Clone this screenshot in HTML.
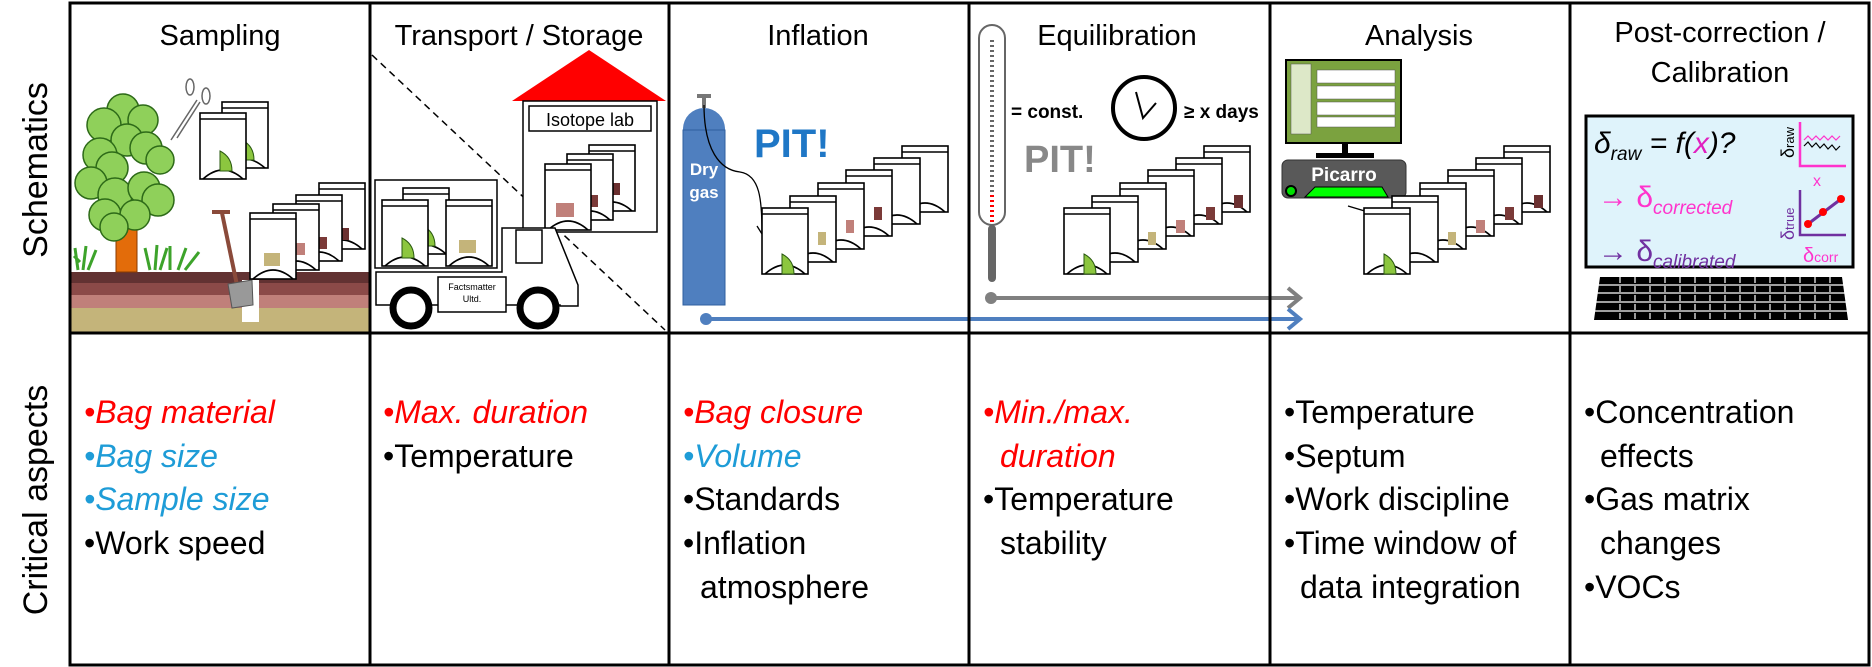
<!DOCTYPE html>
<html><head><meta charset="utf-8"><style>
html,body{margin:0;padding:0;background:#fff;}
svg{display:block;font-family:"Liberation Sans",sans-serif;}
.h{font-size:29px;text-anchor:middle;fill:#000;}
.b{font-size:32px;}
</style></head><body>
<svg width="1872" height="667" viewBox="0 0 1872 667" xmlns="http://www.w3.org/2000/svg">
<defs>
<g id="bag">
<rect x="0" y="0" width="46" height="66" fill="#fff" stroke="#000" stroke-width="1.6"/>
<line x1="0" y1="6" x2="46" y2="6" stroke="#000" stroke-width="1.6"/>
<path d="M3,66 Q23,48 43,66" fill="none" stroke="#000" stroke-width="1.6"/>
</g>
<g id="wedge"><path d="M20,58 L20,38 Q32,44 32,58 Z" fill="#8cc63f" stroke="#2a5a10" stroke-width="1"/></g>
</defs>

<!-- left labels -->
<text transform="translate(47,170) rotate(-90)" font-size="34" text-anchor="middle">Schematics</text>
<text transform="translate(47,500) rotate(-90)" font-size="34" text-anchor="middle">Critical aspects</text>

<!-- headers -->
<text class="h" x="220" y="45">Sampling</text>
<text class="h" x="519" y="45">Transport / Storage</text>
<text class="h" x="818" y="45">Inflation</text>
<text class="h" x="1117" y="45">Equilibration</text>
<text class="h" x="1419" y="45">Analysis</text>
<text class="h" x="1720" y="42">Post-correction /</text>
<text class="h" x="1720" y="82">Calibration</text>

<!-- Sampling -->
<rect x="71" y="272" width="298" height="11" fill="#623232"/>
<rect x="71" y="283" width="298" height="12" fill="#8b4a48"/>
<rect x="71" y="295" width="298" height="13" fill="#c0807a"/>
<rect x="71" y="308" width="298" height="24" fill="#c4b47a"/>
<rect x="242" y="280" width="17" height="42" fill="#fff"/>
<rect x="116" y="185" width="21" height="87" fill="#e36c0a" stroke="#8a3a00" stroke-width="1"/>
<g fill="#8fd05a" stroke="#2d6a18" stroke-width="1.5">
<circle cx="123" cy="110" r="16"/><circle cx="143" cy="120" r="15"/><circle cx="104" cy="125" r="17"/>
<circle cx="127" cy="140" r="16"/><circle cx="100" cy="155" r="17"/><circle cx="146" cy="148" r="16"/>
<circle cx="112" cy="168" r="16"/><circle cx="160" cy="160" r="14"/><circle cx="91" cy="183" r="16"/>
<circle cx="115" cy="195" r="17"/><circle cx="144" cy="188" r="16"/><circle cx="158" cy="200" r="16"/>
<circle cx="105" cy="215" r="16"/><circle cx="135" cy="215" r="15"/><circle cx="114" cy="227" r="14"/>
</g>
<g stroke="#3da32b" stroke-width="3" fill="none">
<path d="M78,270 l-3,-22 M83,270 l3,-24 M88,270 l8,-20 M80,262 l-6,-6"/>
<path d="M150,270 l-5,-22 M155,270 l2,-25 M160,270 l7,-22 M170,270 l0,-24 M178,270 l8,-22 M185,270 l14,-18"/>
</g>
<g stroke="#666" stroke-width="1.5" fill="none">
<line x1="171" y1="140" x2="197" y2="100"/><line x1="177" y1="138" x2="200" y2="102"/>
<ellipse cx="190" cy="87" rx="4" ry="8"/><ellipse cx="206" cy="96" rx="4" ry="8"/>
</g>
<line x1="222" y1="213" x2="238" y2="290" stroke="#8a4a3a" stroke-width="4"/>
<line x1="212" y1="212" x2="230" y2="212" stroke="#8a4a3a" stroke-width="4"/>
<polygon points="228,284 252,280 253,305 232,308" fill="#999" stroke="#555"/>
<use href="#bag" x="222" y="102"/><use href="#wedge" x="222" y="102"/>
<use href="#bag" x="200" y="113"/><use href="#wedge" x="200" y="113"/>
<use href="#bag" x="319" y="183"/><rect x="340" y="228" width="9" height="12" fill="#6b3030"/>
<use href="#bag" x="296" y="195"/><rect x="318" y="237" width="9" height="12" fill="#7b3a38"/>
<use href="#bag" x="273" y="204"/><rect x="296" y="243" width="9" height="12" fill="#c0807a"/>
<use href="#bag" x="250" y="213"/><rect x="264" y="253" width="16" height="13" fill="#c4b47a"/>

<!-- Transport -->
<line x1="372" y1="55" x2="665" y2="330" stroke="#000" stroke-width="1.5" stroke-dasharray="7,5"/>
<polygon points="512,101 589,50 666,101" fill="#ff0000"/>
<rect x="523" y="101" width="134" height="131" fill="#fff" stroke="#000" stroke-width="1.5"/>
<rect x="529" y="106" width="122" height="25" fill="#fff" stroke="#000" stroke-width="1.5"/>
<text x="590" y="126" font-size="18" text-anchor="middle">Isotope lab</text>
<use href="#bag" x="589" y="145"/><rect x="612" y="183" width="8" height="12" fill="#6b3030"/>
<use href="#bag" x="567" y="154"/><rect x="590" y="195" width="8" height="12" fill="#7b3a38"/>
<use href="#bag" x="545" y="164"/><rect x="556" y="203" width="18" height="14" fill="#c0807a"/>
<rect x="375" y="180" width="122" height="88" fill="#fff" stroke="#000" stroke-width="1.5"/>
<use href="#bag" x="403" y="188"/><use href="#wedge" x="403" y="188"/>
<use href="#bag" x="382" y="200"/><use href="#wedge" x="382" y="200"/>
<use href="#bag" x="446" y="200"/><rect x="459" y="240" width="17" height="13" fill="#c4b47a"/>
<path d="M376,272 L376,305 L560,305 L560,306 L578,306 L578,285 L555,228 L502,228 L502,272 Z" fill="#fff" stroke="#000" stroke-width="1.5"/>
<rect x="516" y="230" width="26" height="33" fill="#fff" stroke="#000" stroke-width="1.5"/>
<rect x="438" y="277" width="68" height="35" fill="#fff" stroke="#000" stroke-width="1.5"/>
<text x="472" y="290" font-size="9" text-anchor="middle">Factsmatter</text>
<text x="472" y="302" font-size="9" text-anchor="middle">Ultd.</text>
<circle cx="411" cy="308" r="18" fill="#fff" stroke="#000" stroke-width="7"/>
<circle cx="538" cy="308" r="18" fill="#fff" stroke="#000" stroke-width="7"/>

<!-- Inflation -->
<rect x="683" y="108" width="42" height="197" rx="21" ry="21" fill="#4f7fbf"/>
<rect x="683" y="130" width="42" height="175" fill="#4f7fbf" stroke="#2f5f9f"/>
<rect x="702" y="96" width="4" height="12" fill="#777"/><rect x="697" y="94" width="14" height="4" fill="#777"/>
<text x="704" y="175" fill="#fff" font-size="17" font-weight="bold" text-anchor="middle">Dry</text>
<text x="704" y="198" fill="#fff" font-size="17" font-weight="bold" text-anchor="middle">gas</text>
<path d="M704,105 C704,150 720,170 740,172 C760,175 762,200 762,233" fill="none" stroke="#000" stroke-width="1.3"/>
<path d="M757,226 L762,234 L766,226" fill="none" stroke="#000" stroke-width="1.3"/>
<text x="754" y="157" fill="#1f77c6" font-size="40" font-weight="bold">PIT!</text>
<use href="#bag" x="902" y="146"/><use href="#bag" x="874" y="158"/><use href="#bag" x="846" y="170"/>
<use href="#bag" x="818" y="183"/><use href="#bag" x="790" y="196"/>
<rect x="874" y="207" width="8" height="13" fill="#7b3a38"/><rect x="846" y="220" width="8" height="13" fill="#c0807a"/><rect x="818" y="232" width="8" height="13" fill="#c4b47a"/>
<use href="#bag" x="762" y="208" transform="translate(0,0)"/><use href="#wedge" x="762" y="216"/>

<!-- Equilibration -->
<rect x="979" y="25" width="26" height="200" rx="13" fill="#fff" stroke="#666" stroke-width="2"/>
<rect x="988" y="225" width="8" height="57" rx="4" fill="#666"/>
<line x1="992" y1="40" x2="992" y2="222" stroke="#666" stroke-width="4" stroke-dasharray="2,3"/>
<line x1="992" y1="195" x2="992" y2="222" stroke="#f00" stroke-width="4" stroke-dasharray="2,3"/>
<text x="1011" y="118" font-size="19" font-weight="bold">= const.</text>
<circle cx="1144" cy="108" r="31" fill="#fff" stroke="#000" stroke-width="4"/>
<path d="M1136,92 L1143,118 L1156,103" fill="none" stroke="#000" stroke-width="2"/>
<text x="1184" y="118" font-size="19" font-weight="bold">≥ x days</text>
<text x="1024" y="172" fill="#888" font-size="38" font-weight="bold">PIT!</text>
<use href="#bag" x="1204" y="146"/><use href="#bag" x="1176" y="158"/><use href="#bag" x="1148" y="170"/>
<use href="#bag" x="1120" y="183"/><use href="#bag" x="1092" y="196"/>
<rect x="1234" y="195" width="9" height="13" fill="#6b3030"/><rect x="1206" y="207" width="9" height="13" fill="#7b3a38"/><rect x="1176" y="220" width="9" height="13" fill="#c0807a"/><rect x="1148" y="232" width="8" height="13" fill="#c4b47a"/>
<use href="#bag" x="1064" y="208"/><use href="#wedge" x="1064" y="216"/>
<line x1="991" y1="298" x2="1299" y2="298" stroke="#808080" stroke-width="4"/>
<circle cx="991" cy="298" r="6" fill="#808080"/>
<path d="M1288,288 L1300,298 L1288,308" fill="none" stroke="#808080" stroke-width="4"/>
<line x1="706" y1="319" x2="1299" y2="319" stroke="#4f7fbf" stroke-width="4"/>
<circle cx="706" cy="319" r="6" fill="#4f7fbf"/>
<path d="M1288,309 L1300,319 L1288,329" fill="none" stroke="#4f7fbf" stroke-width="4"/>

<!-- Analysis -->
<rect x="1286" y="60" width="115" height="83" fill="#7ba23f" stroke="#000" stroke-width="2"/>
<g fill="#fff" stroke="#555" stroke-width="0.5">
<rect x="1317" y="70" width="78" height="13"/><rect x="1317" y="86" width="78" height="13"/><rect x="1317" y="102" width="78" height="13"/><rect x="1317" y="117" width="78" height="10"/>
<rect x="1291" y="64" width="20" height="70" fill="#dde8c8"/>
</g>
<rect x="1342" y="143" width="6" height="11" fill="#000"/><rect x="1316" y="153" width="58" height="5" fill="#000"/>
<rect x="1282" y="160" width="124" height="38" rx="6" fill="#595959" stroke="#333"/>
<text x="1344" y="181" fill="#fff" font-size="19" font-weight="bold" text-anchor="middle">Picarro</text>
<circle cx="1291" cy="191" r="5" fill="#00e000" stroke="#000" stroke-width="2"/>
<polygon points="1305,197 1315,187 1382,187 1388,197" fill="#00ff00" stroke="#000"/>
<path d="M1392,233 C1392,215 1378,222 1368,212 L1348,206" fill="none" stroke="#000" stroke-width="1.3"/>
<use href="#bag" x="1504" y="146"/><use href="#bag" x="1476" y="158"/><use href="#bag" x="1448" y="170"/>
<use href="#bag" x="1420" y="183"/><use href="#bag" x="1392" y="196"/>
<rect x="1534" y="195" width="9" height="13" fill="#6b3030"/><rect x="1505" y="207" width="9" height="13" fill="#7b3a38"/><rect x="1476" y="220" width="9" height="13" fill="#c0807a"/><rect x="1448" y="232" width="8" height="13" fill="#c4b47a"/>
<use href="#bag" x="1364" y="208"/><use href="#wedge" x="1364" y="216"/>

<!-- Post-correction -->
<rect x="1586" y="116" width="267" height="151" fill="#dff3fb" stroke="#000" stroke-width="3"/>
<text x="1594" y="153" font-size="30" font-style="italic">δ<tspan font-size="19" dy="7">raw</tspan><tspan dy="-7"> = f(</tspan><tspan fill="#e020c0">x</tspan>)?</text>
<text x="1598" y="207" font-size="30" fill="#ff33cc">→ δ<tspan font-size="19" dy="7" font-style="italic">corrected</tspan></text>
<text x="1598" y="261" font-size="30" fill="#7030a0">→ δ<tspan font-size="19" dy="7" font-style="italic">calibrated</tspan></text>
<path d="M1800,122 L1800,166 L1846,166" fill="none" stroke="#ff33cc" stroke-width="2.5"/>
<path d="M1804,140 l4,-4 4,4 4,-4 4,4 4,-4 4,4 4,-4 4,4 4,-4" fill="none" stroke="#ff33cc" stroke-width="1.2"/>
<path d="M1804,146 l4,-4 4,5 4,-4 4,5 4,-4 4,5 4,-4 4,5 4,-4" fill="none" stroke="#000" stroke-width="1.2"/>
<text transform="translate(1794,158) rotate(-90)" font-size="18">δ<tspan font-size="13">raw</tspan></text>
<text x="1817" y="186" font-size="16" fill="#ff33cc" text-anchor="middle">x</text>
<path d="M1800,190 L1800,235 L1846,235" fill="none" stroke="#7030a0" stroke-width="2.5"/>
<line x1="1808" y1="224" x2="1841" y2="199" stroke="#7030a0" stroke-width="3"/>
<g fill="#f00"><circle cx="1808" cy="224" r="4"/><circle cx="1823" cy="212" r="4"/><circle cx="1841" cy="199" r="4"/></g>
<text transform="translate(1794,240) rotate(-90)" font-size="18" fill="#7030a0">δ<tspan font-size="13">true</tspan></text>
<text x="1803" y="262" font-size="20" fill="#ff33cc">δ<tspan font-size="14">corr</tspan></text>
<polygon points="1600,277 1842,277 1848,320 1594,320" fill="#000"/>
<g stroke="#fff" stroke-width="1.3">
<line x1="1598" y1="285" x2="1844" y2="285"/><line x1="1597" y1="293" x2="1845" y2="293"/><line x1="1596" y1="302" x2="1846" y2="302"/><line x1="1595" y1="311" x2="1847" y2="311"/>
</g>
<g stroke="#fff" stroke-width="1.3" stroke-dasharray="8,8"><line x1="1610" y1="278" x2="1840" y2="278" stroke-width="0"/></g>
<g stroke="#fff" stroke-width="1.2">
<path d="M1620,277v43M1635,277v43M1650,277v43M1665,277v43M1680,277v43M1695,277v43M1710,277v43M1725,277v43M1740,277v43M1755,277v43M1770,277v43M1785,277v43M1800,277v43M1815,277v43M1830,277v43" stroke-dasharray="6,3"/>
</g>

<!-- grid -->
<g stroke="#000" stroke-width="3" fill="none">
<rect x="70" y="3" width="1799" height="662"/>
<line x1="70" y1="333" x2="1869" y2="333"/>
<line x1="370" y1="3" x2="370" y2="665"/><line x1="669" y1="3" x2="669" y2="665"/>
<line x1="969" y1="3" x2="969" y2="665"/><line x1="1270" y1="3" x2="1270" y2="665"/>
<line x1="1570" y1="3" x2="1570" y2="665"/>
</g>

<!-- critical aspects -->
<g class="b">
<text x="84" y="423" fill="#ff0000" font-style="italic">•Bag material</text>
<text x="84" y="467" fill="#1e9cd7" font-style="italic">•Bag size</text>
<text x="84" y="510" fill="#1e9cd7" font-style="italic">•Sample size</text>
<text x="84" y="554">•Work speed</text>

<text x="383" y="423" fill="#ff0000" font-style="italic">•Max. duration</text>
<text x="383" y="467">•Temperature</text>

<text x="683" y="423" fill="#ff0000" font-style="italic">•Bag closure</text>
<text x="683" y="467" fill="#1e9cd7" font-style="italic">•Volume</text>
<text x="683" y="510">•Standards</text>
<text x="683" y="554">•Inflation</text>
<text x="700" y="598">atmosphere</text>

<text x="983" y="423" fill="#ff0000" font-style="italic">•Min./max.</text>
<text x="1000" y="467" fill="#ff0000" font-style="italic">duration</text>
<text x="983" y="510">•Temperature</text>
<text x="1000" y="554">stability</text>

<text x="1284" y="423">•Temperature</text>
<text x="1284" y="467">•Septum</text>
<text x="1284" y="510">•Work discipline</text>
<text x="1284" y="554">•Time window of</text>
<text x="1300" y="598">data integration</text>

<text x="1584" y="423">•Concentration</text>
<text x="1600" y="467">effects</text>
<text x="1584" y="510">•Gas matrix</text>
<text x="1600" y="554">changes</text>
<text x="1584" y="598">•VOCs</text>
</g>
</svg>
</body></html>
